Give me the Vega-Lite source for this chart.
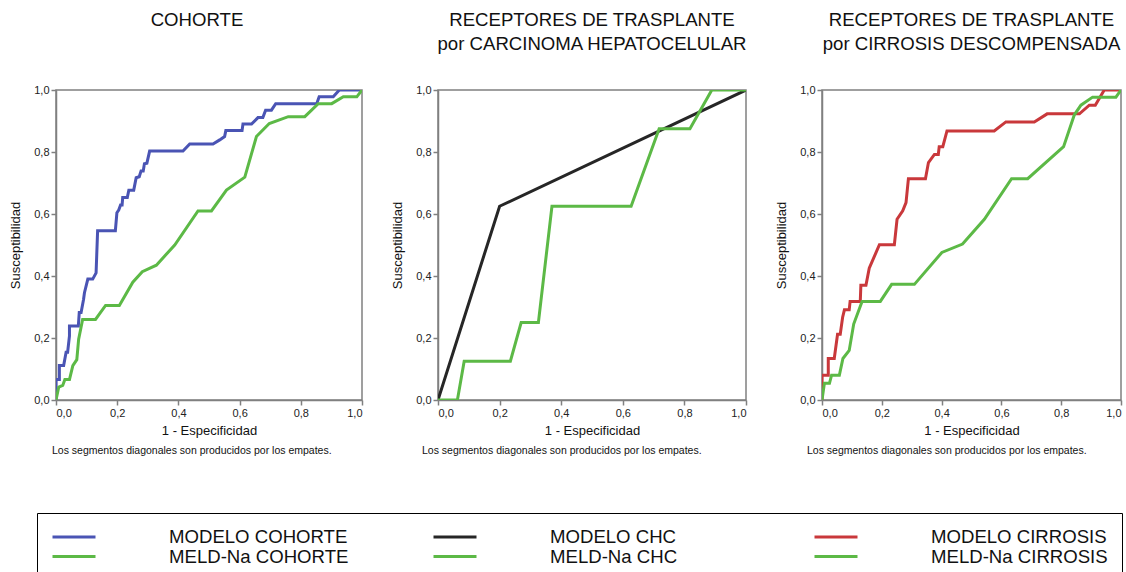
{
  "$schema": "https://vega.github.io/schema/vega-lite/v6.json",
  "padding": {"left": 8, "top": 10, "right": 0, "bottom": 0},
  "background": "white",
  "config": {
    "font": "Liberation Sans",
    "view": {"stroke": "#808080", "strokeWidth": 1.5},
    "axis": {
      "grid": false,
      "domainColor": "#808080",
      "domainWidth": 1.5,
      "tickColor": "#808080",
      "tickWidth": 1.5,
      "tickSize": 5,
      "labelFont": "Liberation Sans",
      "labelFontSize": 11,
      "labelColor": "#222222",
      "labelPadding": 2,
      "titleFont": "Liberation Sans",
      "titleFontSize": 13,
      "titleFontWeight": "normal",
      "titleColor": "#111111"
    },
    "title": {"font": "Liberation Sans", "fontSize": 18.6, "fontWeight": "normal", "color": "#111111", "lineHeight": 24},
    "legend": {
      "orient": "none",
      "legendX": -19,
      "legendY": 423,
      "columns": 3,
      "gridAlign": "all",
      "columnPadding": 78,
      "rowPadding": 0,
      "padding": 14,
      "strokeColor": "#000000",
      "symbolType": "M-1,0H4.375",
      "symbolSize": 256,
      "symbolStrokeWidth": 3,
      "labelFont": "Liberation Sans",
      "labelFontSize": 18.6,
      "labelColor": "#111111",
      "labelOffset": 99,
      "labelLimit": 0
    }
  },
  "datasets": {
    "roc": [
      {"serie": "MODELO COHORTE", "x": 0, "y": 0},
      {"serie": "MODELO COHORTE", "x": 0, "y": 0.066},
      {"serie": "MODELO COHORTE", "x": 0.011, "y": 0.066},
      {"serie": "MODELO COHORTE", "x": 0.011, "y": 0.111},
      {"serie": "MODELO COHORTE", "x": 0.025, "y": 0.111},
      {"serie": "MODELO COHORTE", "x": 0.033, "y": 0.154},
      {"serie": "MODELO COHORTE", "x": 0.038, "y": 0.154},
      {"serie": "MODELO COHORTE", "x": 0.044, "y": 0.207},
      {"serie": "MODELO COHORTE", "x": 0.044, "y": 0.239},
      {"serie": "MODELO COHORTE", "x": 0.073, "y": 0.239},
      {"serie": "MODELO COHORTE", "x": 0.076, "y": 0.282},
      {"serie": "MODELO COHORTE", "x": 0.082, "y": 0.282},
      {"serie": "MODELO COHORTE", "x": 0.09, "y": 0.324},
      {"serie": "MODELO COHORTE", "x": 0.093, "y": 0.346},
      {"serie": "MODELO COHORTE", "x": 0.104, "y": 0.39},
      {"serie": "MODELO COHORTE", "x": 0.12, "y": 0.39},
      {"serie": "MODELO COHORTE", "x": 0.131, "y": 0.41},
      {"serie": "MODELO COHORTE", "x": 0.136, "y": 0.546},
      {"serie": "MODELO COHORTE", "x": 0.194, "y": 0.546},
      {"serie": "MODELO COHORTE", "x": 0.199, "y": 0.604},
      {"serie": "MODELO COHORTE", "x": 0.205, "y": 0.613},
      {"serie": "MODELO COHORTE", "x": 0.211, "y": 0.629},
      {"serie": "MODELO COHORTE", "x": 0.216, "y": 0.629},
      {"serie": "MODELO COHORTE", "x": 0.218, "y": 0.653},
      {"serie": "MODELO COHORTE", "x": 0.233, "y": 0.653},
      {"serie": "MODELO COHORTE", "x": 0.238, "y": 0.677},
      {"serie": "MODELO COHORTE", "x": 0.254, "y": 0.677},
      {"serie": "MODELO COHORTE", "x": 0.262, "y": 0.717},
      {"serie": "MODELO COHORTE", "x": 0.272, "y": 0.72},
      {"serie": "MODELO COHORTE", "x": 0.278, "y": 0.739},
      {"serie": "MODELO COHORTE", "x": 0.285, "y": 0.739},
      {"serie": "MODELO COHORTE", "x": 0.289, "y": 0.762},
      {"serie": "MODELO COHORTE", "x": 0.297, "y": 0.764},
      {"serie": "MODELO COHORTE", "x": 0.306, "y": 0.803},
      {"serie": "MODELO COHORTE", "x": 0.415, "y": 0.803},
      {"serie": "MODELO COHORTE", "x": 0.437, "y": 0.826},
      {"serie": "MODELO COHORTE", "x": 0.513, "y": 0.826},
      {"serie": "MODELO COHORTE", "x": 0.535, "y": 0.839},
      {"serie": "MODELO COHORTE", "x": 0.551, "y": 0.85},
      {"serie": "MODELO COHORTE", "x": 0.555, "y": 0.869},
      {"serie": "MODELO COHORTE", "x": 0.608, "y": 0.869},
      {"serie": "MODELO COHORTE", "x": 0.611, "y": 0.89},
      {"serie": "MODELO COHORTE", "x": 0.639, "y": 0.89},
      {"serie": "MODELO COHORTE", "x": 0.66, "y": 0.911},
      {"serie": "MODELO COHORTE", "x": 0.676, "y": 0.911},
      {"serie": "MODELO COHORTE", "x": 0.685, "y": 0.935},
      {"serie": "MODELO COHORTE", "x": 0.704, "y": 0.935},
      {"serie": "MODELO COHORTE", "x": 0.718, "y": 0.956},
      {"serie": "MODELO COHORTE", "x": 0.852, "y": 0.956},
      {"serie": "MODELO COHORTE", "x": 0.86, "y": 0.978},
      {"serie": "MODELO COHORTE", "x": 0.906, "y": 0.978},
      {"serie": "MODELO COHORTE", "x": 0.926, "y": 1},
      {"serie": "MODELO COHORTE", "x": 1, "y": 1},
      {"serie": "MELD-Na COHORTE", "x": 0, "y": 0},
      {"serie": "MELD-Na COHORTE", "x": 0.009, "y": 0.042},
      {"serie": "MELD-Na COHORTE", "x": 0.022, "y": 0.047},
      {"serie": "MELD-Na COHORTE", "x": 0.029, "y": 0.066},
      {"serie": "MELD-Na COHORTE", "x": 0.044, "y": 0.066},
      {"serie": "MELD-Na COHORTE", "x": 0.055, "y": 0.111},
      {"serie": "MELD-Na COHORTE", "x": 0.068, "y": 0.13},
      {"serie": "MELD-Na COHORTE", "x": 0.074, "y": 0.196},
      {"serie": "MELD-Na COHORTE", "x": 0.087, "y": 0.26},
      {"serie": "MELD-Na COHORTE", "x": 0.129, "y": 0.26},
      {"serie": "MELD-Na COHORTE", "x": 0.162, "y": 0.305},
      {"serie": "MELD-Na COHORTE", "x": 0.207, "y": 0.305},
      {"serie": "MELD-Na COHORTE", "x": 0.251, "y": 0.38},
      {"serie": "MELD-Na COHORTE", "x": 0.282, "y": 0.414},
      {"serie": "MELD-Na COHORTE", "x": 0.328, "y": 0.435},
      {"serie": "MELD-Na COHORTE", "x": 0.388, "y": 0.5},
      {"serie": "MELD-Na COHORTE", "x": 0.464, "y": 0.61},
      {"serie": "MELD-Na COHORTE", "x": 0.508, "y": 0.61},
      {"serie": "MELD-Na COHORTE", "x": 0.557, "y": 0.677},
      {"serie": "MELD-Na COHORTE", "x": 0.617, "y": 0.719},
      {"serie": "MELD-Na COHORTE", "x": 0.655, "y": 0.85},
      {"serie": "MELD-Na COHORTE", "x": 0.697, "y": 0.892},
      {"serie": "MELD-Na COHORTE", "x": 0.759, "y": 0.914},
      {"serie": "MELD-Na COHORTE", "x": 0.813, "y": 0.914},
      {"serie": "MELD-Na COHORTE", "x": 0.857, "y": 0.956},
      {"serie": "MELD-Na COHORTE", "x": 0.901, "y": 0.956},
      {"serie": "MELD-Na COHORTE", "x": 0.939, "y": 0.978},
      {"serie": "MELD-Na COHORTE", "x": 0.983, "y": 0.978},
      {"serie": "MELD-Na COHORTE", "x": 1, "y": 1},
      {"serie": "MODELO CHC", "x": 0, "y": 0},
      {"serie": "MODELO CHC", "x": 0.2, "y": 0.625},
      {"serie": "MODELO CHC", "x": 1, "y": 1},
      {"serie": "MELD-Na CHC", "x": 0, "y": 0},
      {"serie": "MELD-Na CHC", "x": 0.063, "y": 0},
      {"serie": "MELD-Na CHC", "x": 0.085, "y": 0.125},
      {"serie": "MELD-Na CHC", "x": 0.235, "y": 0.125},
      {"serie": "MELD-Na CHC", "x": 0.27, "y": 0.25},
      {"serie": "MELD-Na CHC", "x": 0.326, "y": 0.25},
      {"serie": "MELD-Na CHC", "x": 0.37, "y": 0.625},
      {"serie": "MELD-Na CHC", "x": 0.627, "y": 0.625},
      {"serie": "MELD-Na CHC", "x": 0.718, "y": 0.875},
      {"serie": "MELD-Na CHC", "x": 0.818, "y": 0.875},
      {"serie": "MELD-Na CHC", "x": 0.889, "y": 1},
      {"serie": "MELD-Na CHC", "x": 1, "y": 1},
      {"serie": "MODELO CIRROSIS", "x": 0, "y": 0},
      {"serie": "MODELO CIRROSIS", "x": 0, "y": 0.08},
      {"serie": "MODELO CIRROSIS", "x": 0.021, "y": 0.08},
      {"serie": "MODELO CIRROSIS", "x": 0.021, "y": 0.134},
      {"serie": "MODELO CIRROSIS", "x": 0.041, "y": 0.134},
      {"serie": "MODELO CIRROSIS", "x": 0.052, "y": 0.212},
      {"serie": "MODELO CIRROSIS", "x": 0.061, "y": 0.212},
      {"serie": "MODELO CIRROSIS", "x": 0.069, "y": 0.267},
      {"serie": "MODELO CIRROSIS", "x": 0.075, "y": 0.291},
      {"serie": "MODELO CIRROSIS", "x": 0.091, "y": 0.291},
      {"serie": "MODELO CIRROSIS", "x": 0.094, "y": 0.318},
      {"serie": "MODELO CIRROSIS", "x": 0.128, "y": 0.318},
      {"serie": "MODELO CIRROSIS", "x": 0.13, "y": 0.37},
      {"serie": "MODELO CIRROSIS", "x": 0.147, "y": 0.37},
      {"serie": "MODELO CIRROSIS", "x": 0.158, "y": 0.425},
      {"serie": "MODELO CIRROSIS", "x": 0.192, "y": 0.501},
      {"serie": "MODELO CIRROSIS", "x": 0.242, "y": 0.501},
      {"serie": "MODELO CIRROSIS", "x": 0.251, "y": 0.583},
      {"serie": "MODELO CIRROSIS", "x": 0.27, "y": 0.61},
      {"serie": "MODELO CIRROSIS", "x": 0.281, "y": 0.637},
      {"serie": "MODELO CIRROSIS", "x": 0.289, "y": 0.714},
      {"serie": "MODELO CIRROSIS", "x": 0.346, "y": 0.714},
      {"serie": "MODELO CIRROSIS", "x": 0.356, "y": 0.766},
      {"serie": "MODELO CIRROSIS", "x": 0.376, "y": 0.792},
      {"serie": "MODELO CIRROSIS", "x": 0.389, "y": 0.792},
      {"serie": "MODELO CIRROSIS", "x": 0.392, "y": 0.817},
      {"serie": "MODELO CIRROSIS", "x": 0.404, "y": 0.817},
      {"serie": "MODELO CIRROSIS", "x": 0.418, "y": 0.868},
      {"serie": "MODELO CIRROSIS", "x": 0.576, "y": 0.868},
      {"serie": "MODELO CIRROSIS", "x": 0.615, "y": 0.897},
      {"serie": "MODELO CIRROSIS", "x": 0.71, "y": 0.897},
      {"serie": "MODELO CIRROSIS", "x": 0.753, "y": 0.923},
      {"serie": "MODELO CIRROSIS", "x": 0.861, "y": 0.923},
      {"serie": "MODELO CIRROSIS", "x": 0.894, "y": 0.951},
      {"serie": "MODELO CIRROSIS", "x": 0.914, "y": 0.951},
      {"serie": "MODELO CIRROSIS", "x": 0.944, "y": 1},
      {"serie": "MODELO CIRROSIS", "x": 1, "y": 1},
      {"serie": "MELD-Na CIRROSIS", "x": 0, "y": 0},
      {"serie": "MELD-Na CIRROSIS", "x": 0.008, "y": 0.054},
      {"serie": "MELD-Na CIRROSIS", "x": 0.025, "y": 0.054},
      {"serie": "MELD-Na CIRROSIS", "x": 0.032, "y": 0.08},
      {"serie": "MELD-Na CIRROSIS", "x": 0.058, "y": 0.08},
      {"serie": "MELD-Na CIRROSIS", "x": 0.07, "y": 0.134},
      {"serie": "MELD-Na CIRROSIS", "x": 0.091, "y": 0.16},
      {"serie": "MELD-Na CIRROSIS", "x": 0.106, "y": 0.245},
      {"serie": "MELD-Na CIRROSIS", "x": 0.134, "y": 0.318},
      {"serie": "MELD-Na CIRROSIS", "x": 0.195, "y": 0.318},
      {"serie": "MELD-Na CIRROSIS", "x": 0.233, "y": 0.373},
      {"serie": "MELD-Na CIRROSIS", "x": 0.309, "y": 0.373},
      {"serie": "MELD-Na CIRROSIS", "x": 0.401, "y": 0.476},
      {"serie": "MELD-Na CIRROSIS", "x": 0.47, "y": 0.503},
      {"serie": "MELD-Na CIRROSIS", "x": 0.543, "y": 0.583},
      {"serie": "MELD-Na CIRROSIS", "x": 0.634, "y": 0.714},
      {"serie": "MELD-Na CIRROSIS", "x": 0.688, "y": 0.714},
      {"serie": "MELD-Na CIRROSIS", "x": 0.808, "y": 0.817},
      {"serie": "MELD-Na CIRROSIS", "x": 0.844, "y": 0.92},
      {"serie": "MELD-Na CIRROSIS", "x": 0.866, "y": 0.951},
      {"serie": "MELD-Na CIRROSIS", "x": 0.905, "y": 0.977},
      {"serie": "MELD-Na CIRROSIS", "x": 0.983, "y": 0.977},
      {"serie": "MELD-Na CIRROSIS", "x": 1, "y": 1}
    ]
  },
  "hconcat": [
    {
      "title": {"text": "Los segmentos diagonales son producidos por los empates.", "orient": "bottom", "anchor": "start", "frame": "group", "fontSize": 10.5, "lineHeight": 12, "offset": 8, "dx": -4},
      "vconcat": [
        {
          "width": 306,
          "height": 310,
          "data": {"name": "roc"},
          "transform": [{"filter": "indexof(datum.serie, 'COHORTE') >= 0"}],
          "title": {"text": ["COHORTE", " "], "offset": 30, "anchor": "middle", "frame": "group", "dx": -12},
          "mark": {"type": "line", "strokeWidth": 3, "strokeJoin": "miter", "clip": true},
          "encoding": {
            "x": {"field": "x", "type": "quantitative", "scale": {"domain": [0, 1], "nice": false}, "axis": {"title": "1 - Especificidad", "values": [0, 0.2, 0.4, 0.6, 0.8, 1], "labelExpr": "replace(format(datum.value, '.1f'), '.', ',')", "titlePadding": 6}},
            "y": {"field": "y", "type": "quantitative", "scale": {"domain": [0, 1], "nice": false}, "axis": {"title": "Susceptibilidad", "values": [0, 0.2, 0.4, 0.6, 0.8, 1], "labelExpr": "replace(format(datum.value, '.1f'), '.', ',')", "titlePadding": 11}},
            "color": {"field": "serie", "type": "nominal", "title": null, "scale": {"domain": ["MODELO COHORTE", "MELD-Na COHORTE", "MODELO CHC", "MELD-Na CHC", "MODELO CIRROSIS", "MELD-Na CIRROSIS"], "range": ["#4a54b4", "#5cb946", "#262626", "#5cb946", "#c9383b", "#5cb946"]}},
            "order": {"value": null}
          }
        }
      ]
    },
    {
      "title": {"text": "Los segmentos diagonales son producidos por los empates.", "orient": "bottom", "anchor": "start", "frame": "group", "fontSize": 10.5, "lineHeight": 12, "offset": 8, "dx": -16},
      "vconcat": [
        {
          "width": 308,
          "height": 310,
          "data": {"name": "roc"},
          "transform": [{"filter": "indexof(datum.serie, 'CHC') >= 0"}],
          "title": {"text": ["RECEPTORES DE TRASPLANTE", "por CARCINOMA HEPATOCELULAR"], "offset": 30, "anchor": "middle", "frame": "group"},
          "mark": {"type": "line", "strokeWidth": 3, "strokeJoin": "miter", "clip": true},
          "encoding": {
            "x": {"field": "x", "type": "quantitative", "scale": {"domain": [0, 1], "nice": false}, "axis": {"title": "1 - Especificidad", "values": [0, 0.2, 0.4, 0.6, 0.8, 1], "labelExpr": "replace(format(datum.value, '.1f'), '.', ',')", "titlePadding": 6}},
            "y": {"field": "y", "type": "quantitative", "scale": {"domain": [0, 1], "nice": false}, "axis": {"title": "Susceptibilidad", "values": [0, 0.2, 0.4, 0.6, 0.8, 1], "labelExpr": "replace(format(datum.value, '.1f'), '.', ',')", "titlePadding": 11}},
            "color": {"field": "serie", "type": "nominal", "title": null, "scale": {"domain": ["MODELO COHORTE", "MELD-Na COHORTE", "MODELO CHC", "MELD-Na CHC", "MODELO CIRROSIS", "MELD-Na CIRROSIS"], "range": ["#4a54b4", "#5cb946", "#262626", "#5cb946", "#c9383b", "#5cb946"]}},
            "order": {"value": null}
          }
        }
      ]
    },
    {
      "title": {"text": "Los segmentos diagonales son producidos por los empates.", "orient": "bottom", "anchor": "start", "frame": "group", "fontSize": 10.5, "lineHeight": 12, "offset": 8, "dx": -15},
      "vconcat": [
        {
          "width": 299,
          "height": 310,
          "data": {"name": "roc"},
          "transform": [{"filter": "indexof(datum.serie, 'CIRROSIS') >= 0"}],
          "title": {"text": ["RECEPTORES DE TRASPLANTE", "por CIRROSIS DESCOMPENSADA"], "offset": 30, "anchor": "middle", "frame": "group"},
          "mark": {"type": "line", "strokeWidth": 3, "strokeJoin": "miter", "clip": true},
          "encoding": {
            "x": {"field": "x", "type": "quantitative", "scale": {"domain": [0, 1], "nice": false}, "axis": {"title": "1 - Especificidad", "values": [0, 0.2, 0.4, 0.6, 0.8, 1], "labelExpr": "replace(format(datum.value, '.1f'), '.', ',')", "titlePadding": 6}},
            "y": {"field": "y", "type": "quantitative", "scale": {"domain": [0, 1], "nice": false}, "axis": {"title": "Susceptibilidad", "values": [0, 0.2, 0.4, 0.6, 0.8, 1], "labelExpr": "replace(format(datum.value, '.1f'), '.', ',')", "titlePadding": 11}},
            "color": {"field": "serie", "type": "nominal", "title": null, "scale": {"domain": ["MODELO COHORTE", "MELD-Na COHORTE", "MODELO CHC", "MELD-Na CHC", "MODELO CIRROSIS", "MELD-Na CIRROSIS"], "range": ["#4a54b4", "#5cb946", "#262626", "#5cb946", "#c9383b", "#5cb946"]}},
            "order": {"value": null}
          }
        }
      ]
    }
  ],
  "spacing": 26
}
